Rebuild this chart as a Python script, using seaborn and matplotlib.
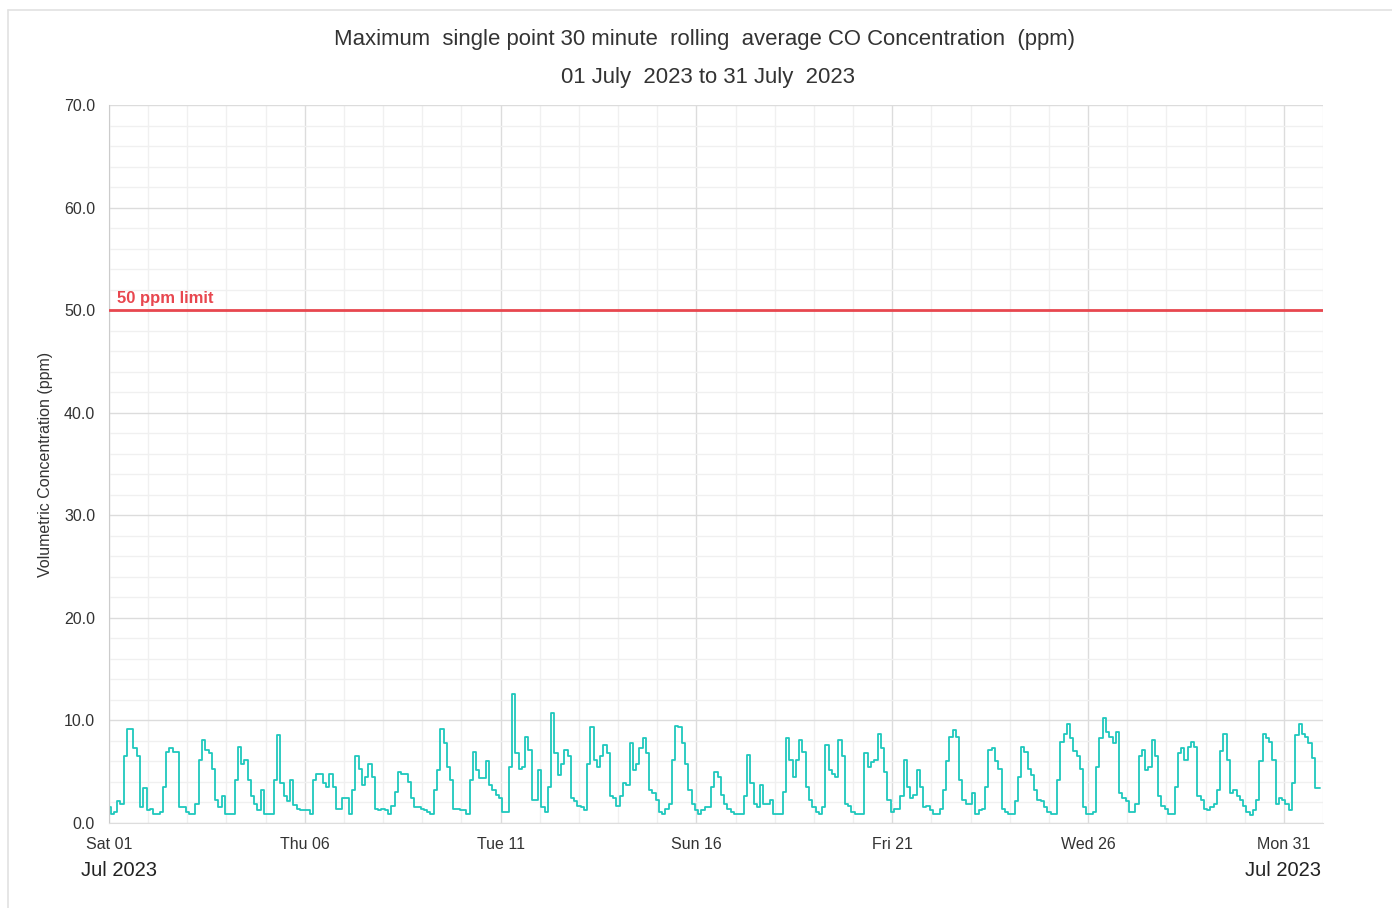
import numpy as np
import pandas as pd
import seaborn as sns
import matplotlib.pyplot as plt
import matplotlib.dates as mdates
from matplotlib.lines import Line2D

# 2-hourly readings (ppm), one row per day, 1-31 July 2023
jul_co = [
    [1.6, 0.9, 1.1, 2.1, 1.9, 6.5, 9.2, 9.2, 7.3, 6.5, 1.6, 3.4],
    [1.3, 1.4, 0.9, 0.9, 1.1, 3.5, 6.9, 7.3, 6.9, 6.9, 1.6, 1.6],
    [1.1, 0.9, 0.9, 1.9, 6.1, 8.1, 7.1, 6.8, 5.3, 2.2, 1.6, 2.6],
    [0.9, 0.9, 0.9, 4.2, 7.4, 5.8, 6.1, 4.2, 2.6, 1.9, 1.3, 3.2],
    [0.9, 0.9, 0.9, 4.2, 8.6, 3.9, 2.6, 2.1, 4.2, 1.8, 1.4, 1.3],
    [1.3, 1.3, 0.9, 4.2, 4.8, 4.8, 3.9, 3.5, 4.8, 3.5, 1.4, 1.4],
    [2.4, 2.4, 0.9, 3.2, 6.5, 5.3, 3.7, 4.5, 5.8, 4.5, 1.4, 1.3],
    [1.4, 1.3, 0.9, 1.7, 3.0, 5.0, 4.8, 4.8, 4.0, 2.4, 1.6, 1.6],
    [1.4, 1.3, 1.1, 0.9, 3.2, 5.2, 9.2, 7.8, 5.5, 4.2, 1.4, 1.4],
    [1.3, 1.3, 0.9, 4.2, 6.9, 5.2, 4.4, 4.4, 6.0, 3.7, 3.2, 2.7],
    [2.4, 1.1, 1.1, 5.5, 12.6, 6.8, 5.3, 5.5, 8.4, 7.1, 2.2, 2.2],
    [5.2, 1.6, 1.1, 3.5, 10.7, 6.8, 4.7, 5.8, 7.1, 6.5, 2.4, 2.1],
    [1.7, 1.6, 1.3, 5.8, 9.4, 6.1, 5.5, 6.5, 7.6, 6.8, 2.6, 2.4],
    [1.7, 2.6, 3.9, 3.7, 7.8, 5.2, 5.8, 7.3, 8.3, 6.8, 3.2, 2.9],
    [2.2, 1.1, 0.9, 1.4, 1.9, 6.1, 9.5, 9.4, 7.8, 5.8, 3.2, 1.9],
    [1.3, 0.9, 1.3, 1.6, 1.6, 3.5, 5.0, 4.5, 2.7, 1.9, 1.4, 1.1],
    [0.9, 0.9, 0.9, 2.6, 6.6, 3.9, 1.9, 1.6, 3.7, 1.9, 1.9, 2.2],
    [0.9, 0.9, 0.9, 3.0, 8.3, 6.1, 4.5, 6.1, 8.1, 6.9, 3.5, 2.2],
    [1.6, 1.1, 0.9, 1.6, 7.6, 5.2, 4.8, 4.5, 8.1, 6.5, 1.9, 1.7],
    [1.1, 0.9, 0.9, 0.9, 6.8, 5.5, 5.9, 6.1, 8.7, 7.3, 5.0, 2.2],
    [1.1, 1.4, 1.4, 2.6, 6.1, 3.5, 2.4, 2.7, 5.2, 3.5, 1.6, 1.7],
    [1.3, 0.9, 0.9, 1.4, 3.2, 6.0, 8.4, 9.1, 8.4, 4.2, 2.2, 1.9],
    [1.9, 2.9, 0.9, 1.3, 1.4, 3.5, 7.1, 7.3, 6.0, 5.3, 1.4, 1.1],
    [0.9, 0.9, 2.1, 4.5, 7.4, 6.9, 5.3, 4.7, 3.2, 2.2, 2.1, 1.6],
    [1.1, 0.9, 0.9, 4.2, 7.9, 8.7, 9.7, 8.3, 7.0, 6.5, 5.3, 1.6],
    [0.9, 0.9, 1.1, 5.5, 8.3, 10.2, 8.9, 8.4, 7.8, 8.9, 2.9, 2.4],
    [2.1, 1.1, 1.1, 1.9, 6.5, 7.1, 5.2, 5.5, 8.1, 6.5, 2.6, 1.7],
    [1.4, 0.9, 0.9, 3.5, 6.8, 7.3, 6.1, 7.4, 7.9, 7.4, 2.6, 2.2],
    [1.4, 1.3, 1.6, 1.9, 3.2, 7.0, 8.7, 6.1, 2.9, 3.2, 2.6, 2.2],
    [1.7, 1.1, 0.8, 1.3, 2.2, 6.0, 8.7, 8.3, 7.9, 6.1, 1.9, 2.4],
    [2.2, 1.9, 1.3, 3.9, 8.6, 9.7, 8.7, 8.4, 7.8, 6.3, 3.4, 3.4],
]
limit_ppm = 50
tick_days = ["Sat 01", "Thu 06", "Tue 11", "Sun 16", "Fri 21", "Wed 26", "Mon 31"]

values = np.array(jul_co).ravel()
times = pd.date_range("2023-07-01 00:00", periods=len(values), freq="2h")
df = pd.DataFrame({"time": times, "co": values})

sns.set_style("white")
plt.rcParams["font.family"] = ["Liberation Sans", "DejaVu Sans"]

fig = plt.figure(figsize=(13.92, 9.08), dpi=100)
ax = fig.add_axes([109 / 1392, 85 / 908, (1323 - 109) / 1392, (823 - 105) / 908])

sns.lineplot(data=df, x="time", y="co", ax=ax, color="#1fc8bd", linewidth=1.3,
             drawstyle="steps-mid")

# 50 ppm limit
ax.axhline(limit_ppm, color="#e8474f", linewidth=2, zorder=3)
ax.text(pd.Timestamp("2023-07-01 05:00"), limit_ppm + 0.4, "50 ppm limit", color="#e8474f",
        fontsize=12, fontweight="bold", va="bottom", ha="left")

ax.set_ylim(0, 70)
ax.set_xlim(pd.Timestamp("2023-07-01"), pd.Timestamp("2023-08-01"))
ax.set_yticks(np.arange(0, 71, 10))
ax.set_yticks(np.arange(0, 71, 2), minor=True)
ax.set_yticklabels([f"{v:.1f}" for v in np.arange(0, 71, 10)], fontsize=11.5, color="#333333")

major_x = pd.date_range("2023-07-01", periods=7, freq="5D")
ax.set_xticks(major_x)
ax.set_xticklabels(tick_days, fontsize=11.5, color="#333333")
ax.xaxis.set_minor_locator(mdates.DayLocator())

ax.grid(True, which="major", color="#dcdcdc", linewidth=1)
ax.grid(True, which="minor", color="#f0f0f0", linewidth=1)
ax.tick_params(which="both", length=0)
ax.tick_params(axis="x", pad=10)
ax.tick_params(axis="y", pad=10)
for side in ["top", "right"]:
    ax.spines[side].set_visible(False)
ax.spines["left"].set_color("#cccccc")
ax.spines["bottom"].set_color("#dddddd")

ax.set_xlabel("")
ax.set_ylabel("Volumetric Concentration (ppm)", fontsize=11.5, color="#333333", labelpad=8)

fig.text(119 / 1392, 1 - 871 / 908, "Jul 2023", fontsize=14.5, color="#222222",
         ha="center", va="center")
fig.text(1321 / 1392, 1 - 871 / 908, "Jul 2023", fontsize=14.5, color="#222222",
         ha="right", va="center")

fig.text(704 / 1392, 1 - 39 / 908, "Maximum  single point 30 minute  rolling  average CO Concentration  (ppm)",
         fontsize=15.9, color="#333333", ha="center", va="center")
fig.text(708 / 1392, 1 - 77 / 908, "01 July  2023 to 31 July  2023",
         fontsize=15.9, color="#333333", ha="center", va="center")

# outer panel border
fig.add_artist(Line2D([8 / 1392, 1], [1 - 10 / 908] * 2, transform=fig.transFigure, color="#e2e2e2", lw=1.2))
fig.add_artist(Line2D([8 / 1392] * 2, [0, 1 - 10 / 908], transform=fig.transFigure, color="#e2e2e2", lw=1.2))

fig.savefig("out.png", dpi=100, facecolor="white")
